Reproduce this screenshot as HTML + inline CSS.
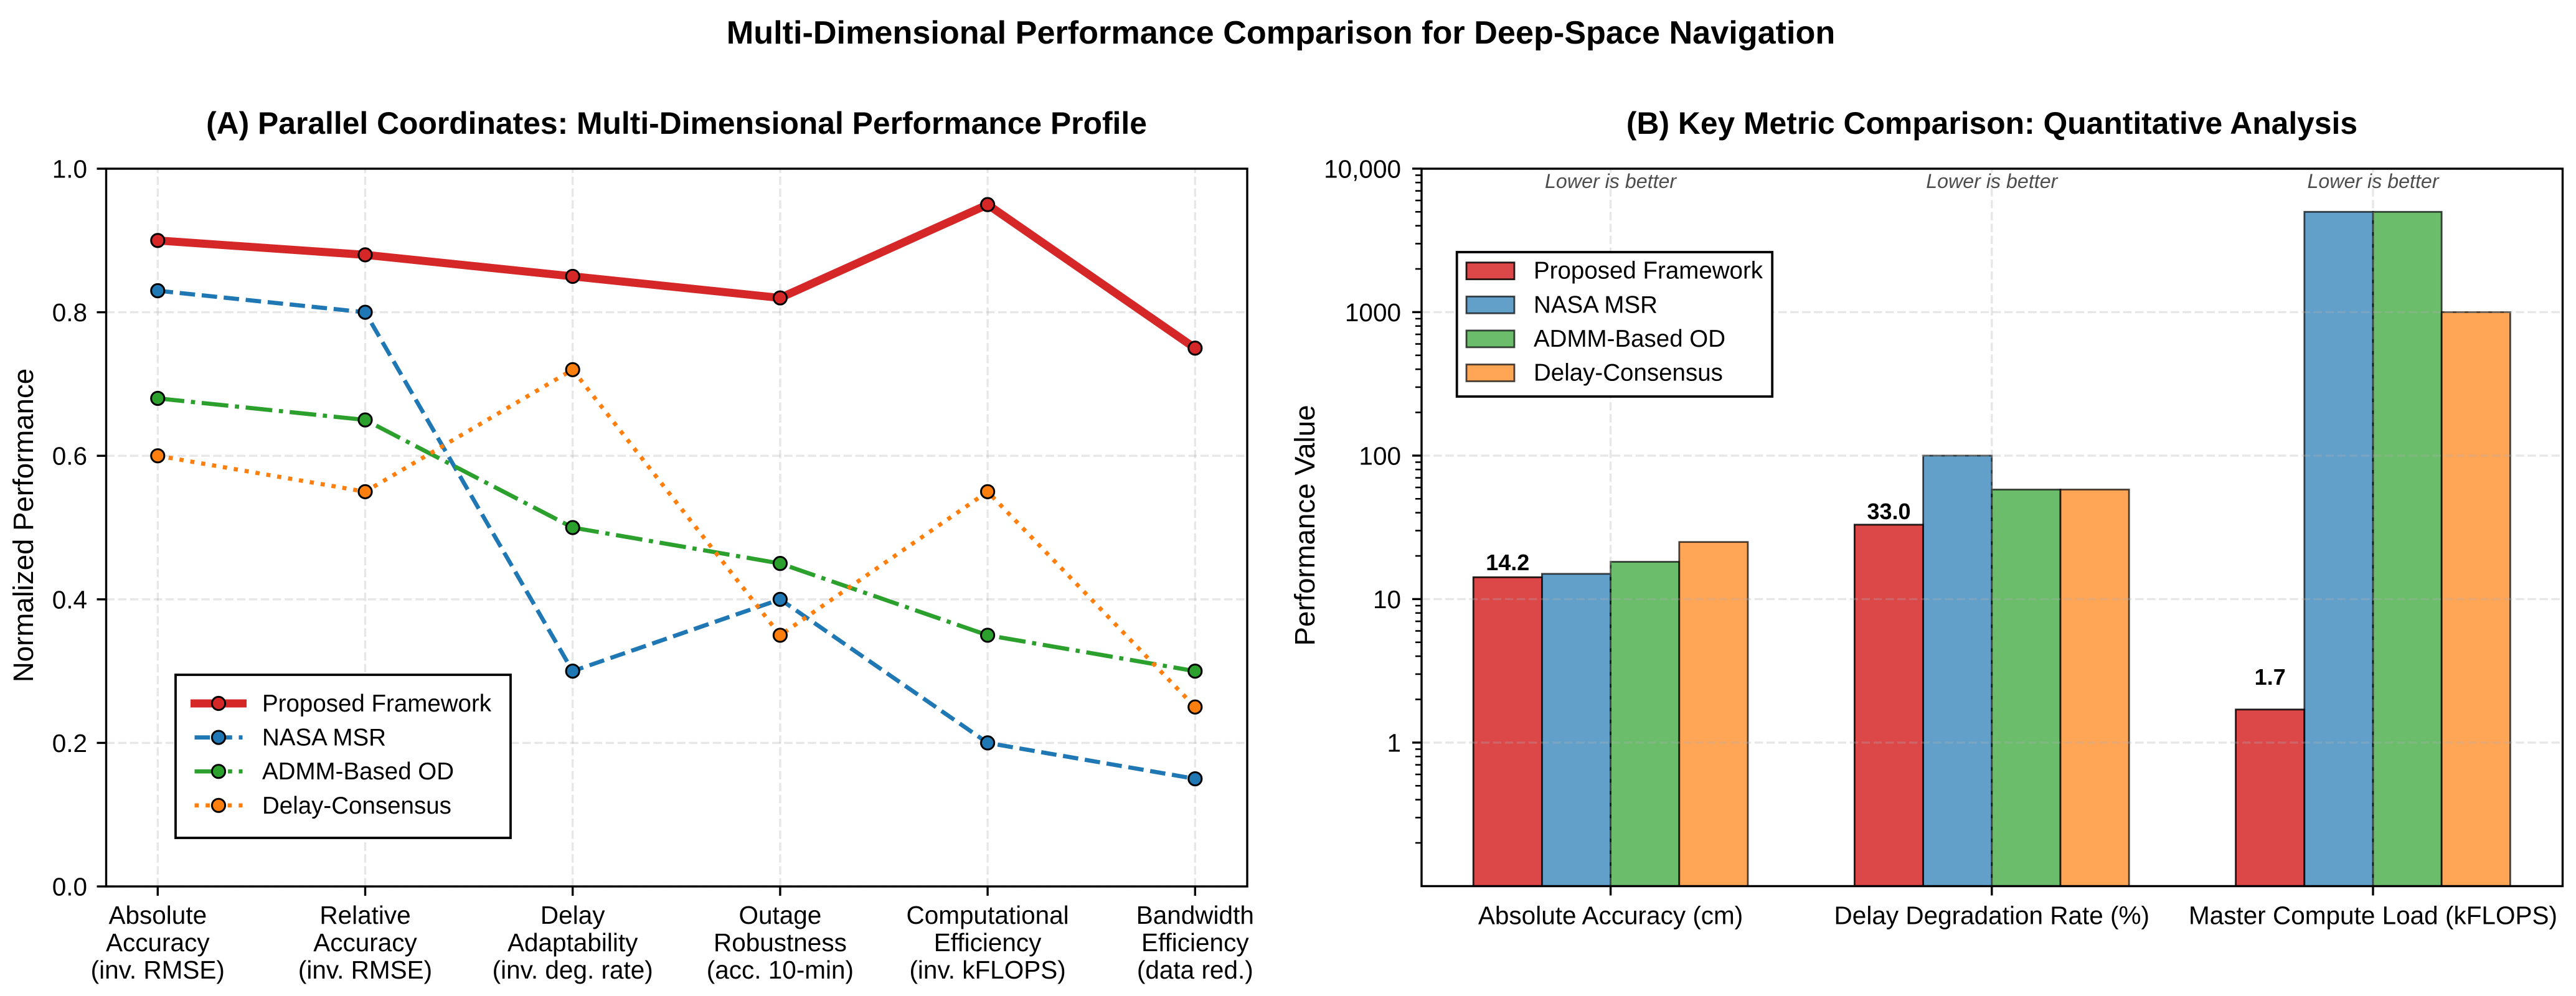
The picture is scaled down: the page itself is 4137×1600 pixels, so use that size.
<!DOCTYPE html>
<html lang="en">
<head>
<meta charset="utf-8">
<title>Multi-Dimensional Performance Comparison for Deep-Space Navigation</title>
<style>
html,body{margin:0;padding:0;background:#fff;}
svg{display:block;font-family:"Liberation Sans",Arial,sans-serif;}
</style>
</head>
<body>
<svg id="figure" xmlns="http://www.w3.org/2000/svg" width="4137" height="1600" viewBox="0 0 4137 1600">
  <rect x="0" y="0" width="4137" height="1600" fill="#ffffff"/>
  <text x="2057" y="70" text-anchor="middle" font-size="52.2" font-weight="bold" fill="#000">Multi-Dimensional Performance Comparison for Deep-Space Navigation</text>
  <text x="1086.5" y="215" text-anchor="middle" font-size="49.8" font-weight="bold" fill="#000">(A) Parallel Coordinates: Multi-Dimensional Performance Profile</text>
  <text x="3199" y="215" text-anchor="middle" font-size="49.8" font-weight="bold" fill="#000">(B) Key Metric Comparison: Quantitative Analysis</text>
  <text transform="translate(53,844) rotate(-90)" text-anchor="middle" font-size="45.6" fill="#000">Normalized Performance</text>
  <text transform="translate(2111,844) rotate(-90)" text-anchor="middle" font-size="45.6" fill="#000">Performance Value</text>
  <g id="panel-a"></g>
  <g id="panel-b"></g>
</svg>
<script>
// ---- Panel A data ----
const dimensionLabels = [
  ['Absolute', 'Accuracy', '(inv. RMSE)'],
  ['Relative', 'Accuracy', '(inv. RMSE)'],
  ['Delay', 'Adaptability', '(inv. deg. rate)'],
  ['Outage', 'Robustness', '(acc. 10-min)'],
  ['Computational', 'Efficiency', '(inv. kFLOPS)'],
  ['Bandwidth', 'Efficiency', '(data red.)']
];
const normalizedTicks = [0, 0.2, 0.4, 0.6, 0.8, 1.0];
const normalizedTickLabels = ['0.0', '0.2', '0.4', '0.6', '0.8', '1.0'];
const seriesNames = ['Proposed Framework', 'NASA MSR', 'ADMM-Based OD', 'Delay-Consensus'];
const proposedProfile = [0.90, 0.88, 0.85, 0.82, 0.95, 0.75];
const nasaProfile = [0.83, 0.80, 0.30, 0.40, 0.20, 0.15];
const admmProfile = [0.68, 0.65, 0.50, 0.45, 0.35, 0.30];
const delayProfile = [0.60, 0.55, 0.72, 0.35, 0.55, 0.25];

// ---- Panel B data ----
const metricLabels = ['Absolute Accuracy (cm)', 'Delay Degradation Rate (%)', 'Master Compute Load (kFLOPS)'];
const metricNote = 'Lower is better';
const logTicks = [1, 10, 100, 1000, 10000];
const logTickLabels = ['1', '10', '100', '1000', '10,000'];
const proposedMetric = [14.2, 33.0, 1.7];
const nasaMetric = [15, 100, 5000];
const admmMetric = [18.2, 58, 5000];
const delayMetric = [25, 58, 1000];

// ---- Helpers ----
const NS = 'http://www.w3.org/2000/svg';
function make(parent, tag, props, content) {
  const node = document.createElementNS(NS, tag);
  for (const key in props) node.setAttribute(key, props[key]);
  if (content !== undefined) node.textContent = content;
  parent.appendChild(node);
  return node;
}
const colors = ['#d62728', '#1f77b4', '#2ca02c', '#ff7f0e'];
const slug = ['proposed-framework', 'nasa-msr', 'admm-based-od', 'delay-consensus'];
const lineWidths = [13, 6.7, 6.7, 6.7];
const dashes = ['none', '24.8 10.7', '42.9 10.7 6.7 10.7', '6.7 11'];
const GRID = '#b0b0b0';

// ---- Panel A axes ----
const A = { left: 170.5, right: 2003, top: 271, bottom: 1424 };
function xA(i) { return 253.3 + 333.2 * i; }
function yA(v) { return A.bottom - (A.bottom - A.top) * v; }

// ---- Panel B axes ----
const B = { left: 2283, right: 4115.5, top: 271, bottom: 1423.5 };
const BAR_WIDTH = 110.2;
function xB(i) { return 2586.6 + 612.2 * i; }
function yB(v) { return 1192.9 - 230.5 * Math.log10(v); }

function gridLine(parent, x1, y1, x2, y2, name) {
  const el = make(parent, 'line', { x1, y1, x2, y2, stroke: GRID, 'stroke-opacity': 0.3, 'stroke-width': 3.4, 'stroke-dasharray': '13.5 5.6' });
  
  
}
function tick(parent, x1, y1, x2, y2, w, name) {
  const el = make(parent, 'line', { x1, y1, x2, y2, stroke: '#000', 'stroke-width': w });
  
  
}
function frame(parent, box, name) {
  const el = make(parent, 'rect', { x: box.left, y: box.top, width: box.right - box.left, height: box.bottom - box.top, fill: 'none', stroke: '#000', 'stroke-width': 3.4 });
  
  
}

// ---- Panel A drawing ----
const panelA = document.getElementById('panel-a');
const profiles = [proposedProfile, nasaProfile, admmProfile, delayProfile];

dimensionLabels.forEach(function (lines, i) {
  gridLine(panelA, xA(i), A.bottom, xA(i), A.top, 'panel-a-vertical-grid-line');
});
normalizedTicks.forEach(function (v) {
  gridLine(panelA, A.left, yA(v), A.right, yA(v), 'panel-a-horizontal-grid-line');
});

profiles.forEach(function (values, s) {
  const g = make(panelA, 'g', {});
  
  
  const pts = values.map(function (v, i) { return xA(i).toFixed(2) + ',' + yA(v).toFixed(2); }).join(' ');
  const line = make(g, 'polyline', { points: pts, fill: 'none', stroke: colors[s], 'stroke-width': lineWidths[s], 'stroke-linejoin': 'round', 'stroke-linecap': s === 0 ? 'square' : 'butt', 'stroke-dasharray': dashes[s] });
  
  
  values.forEach(function (v, i) {
    const dot = make(g, 'circle', { cx: xA(i), cy: yA(v), r: 10.6, fill: colors[s], stroke: '#000', 'stroke-width': 3 });
    
    
  });
});

frame(panelA, A, 'panel-a-axes-frame');

normalizedTicks.forEach(function (v, i) {
  tick(panelA, A.left - 15, yA(v), A.left, yA(v), 3.4, 'panel-a-y-tick');
  const t = make(panelA, 'text', { x: 140, y: yA(v) + 14.5, 'text-anchor': 'end', 'font-size': 40.5, fill: '#000' }, normalizedTickLabels[i]);
  
  
});
dimensionLabels.forEach(function (lines, i) {
  tick(panelA, xA(i), A.bottom, xA(i), A.bottom + 15, 3.4, 'panel-a-x-tick');
  lines.forEach(function (line, j) {
    const t = make(panelA, 'text', { x: xA(i), y: 1484 + 44 * j, 'text-anchor': 'middle', 'font-size': 40.5, fill: '#000' }, line);
    
    
  });
});

// Panel A legend
const legendA = make(panelA, 'g', {});


const legendABox = make(legendA, 'rect', { x: 282, y: 1084, width: 538, height: 262, fill: '#fff', stroke: '#000', 'stroke-width': 3.8 });


seriesNames.forEach(function (name, s) {
  const y = 1130 + 54.6 * s;
  const h = make(legendA, 'line', { x1: 312.5, y1: y, x2: 389.5, y2: y, stroke: colors[s], 'stroke-width': lineWidths[s], 'stroke-linecap': s === 0 ? 'square' : 'butt', 'stroke-dasharray': dashes[s] });
  
  
  const d = make(legendA, 'circle', { cx: 351, cy: y, r: 10.6, fill: colors[s], stroke: '#000', 'stroke-width': 3 });
  
  
  const t = make(legendA, 'text', { x: 421, y: y + 13, 'font-size': 38.5, fill: '#000' }, name);
  
  
});

// ---- Panel B drawing ----
const panelB = document.getElementById('panel-b');
const metricSeries = [proposedMetric, nasaMetric, admmMetric, delayMetric];
const barAlpha = [0.85, 0.7, 0.7, 0.7];

metricSeries.forEach(function (values, s) {
  values.forEach(function (v, i) {
    const x = xB(i) + (s - 2) * BAR_WIDTH;
    const top = yB(v);
    const bar = make(panelB, 'rect', { x, y: top, width: BAR_WIDTH, height: B.bottom - top, fill: colors[s], 'fill-opacity': barAlpha[s], stroke: '#000', 'stroke-opacity': barAlpha[s], 'stroke-width': 2.8 });
    
    
  });
});

metricLabels.forEach(function (label, i) {
  gridLine(panelB, xB(i), B.bottom, xB(i), B.top, 'panel-b-vertical-grid-line');
});
logTicks.forEach(function (v) {
  gridLine(panelB, B.left, yB(v), B.right, yB(v), 'panel-b-horizontal-grid-line');
});

proposedMetric.forEach(function (v, i) {
  const lift = i === 2 ? 40 : (i === 1 ? 9 : 11.5);
  const x = xB(i) - 1.5 * BAR_WIDTH;
  const t = make(panelB, 'text', { x, y: yB(v) - lift, 'text-anchor': 'middle', 'font-size': 36, 'font-weight': 'bold', fill: '#000' }, v.toFixed(1));
  
  
});

metricLabels.forEach(function (label, i) {
  const note = make(panelB, 'text', { x: xB(i), y: 302, 'text-anchor': 'middle', 'font-size': 32.2, 'font-style': 'italic', fill: '#000', 'fill-opacity': 0.7 }, metricNote);
  
  
});

frame(panelB, B, 'panel-b-axes-frame');

logTicks.forEach(function (v, i) {
  tick(panelB, B.left - 15, yB(v), B.left, yB(v), 3.4, 'panel-b-y-tick');
  const t = make(panelB, 'text', { x: 2250, y: yB(v) + 14.5, 'text-anchor': 'end', 'font-size': 40.5, fill: '#000' }, logTickLabels[i]);
  
  
});
[0.1, 1, 10, 100, 1000].forEach(function (decade) {
  for (let m = 2; m <= 9; m++) {
    tick(panelB, B.left - 10, yB(decade * m), B.left, yB(decade * m), 2.6, 'panel-b-minor-tick');
  }
});
metricLabels.forEach(function (label, i) {
  tick(panelB, xB(i), B.bottom, xB(i), B.bottom + 15, 3.4, 'panel-b-x-tick');
  const t = make(panelB, 'text', { x: xB(i), y: 1484.5, 'text-anchor': 'middle', 'font-size': 40.5, fill: '#000' }, label);
  
  
});

// Panel B legend
const legendB = make(panelB, 'g', {});


const legendBBox = make(legendB, 'rect', { x: 2339.7, y: 405, width: 506.5, height: 232, fill: '#fff', stroke: '#000', 'stroke-width': 3.8 });


seriesNames.forEach(function (name, s) {
  const y = 421.7 + 54.6 * s;
  const p = make(legendB, 'rect', { x: 2355, y, width: 77, height: 27, fill: colors[s], 'fill-opacity': barAlpha[s], stroke: '#000', 'stroke-opacity': barAlpha[s], 'stroke-width': 2.8 });
  
  
  const t = make(legendB, 'text', { x: 2463, y: y + 26, 'font-size': 38.5, fill: '#000' }, name);
  
  
});
</script>
</body>
</html>
